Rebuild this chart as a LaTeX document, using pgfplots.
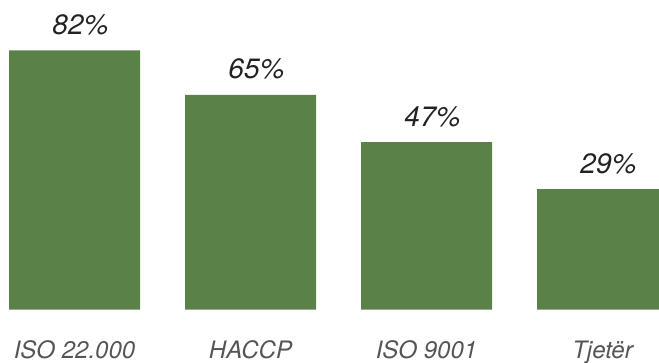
\documentclass[border=0pt]{standalone}
\usepackage{pgfplots}
\pgfplotsset{compat=1.18}
\usepackage{pgfplotstable}
\usepackage{fontspec}
\setmainfont{TeX Gyre Heros}
\definecolor{bargreen}{HTML}{5A8246}
\definecolor{valtext}{HTML}{222222}
\definecolor{cattext}{HTML}{555555}
\pgfplotstableread{
x v
0 82
1 65
2 47
3 29
}\datatable
\begin{document}
\begin{tikzpicture}
\useasboundingbox (0,0) rectangle (659pt,362pt);
\begin{axis}[
  at={(0pt,52.5pt)}, anchor=south west,
  scale only axis, width=659pt, height=309.5pt,
  xmin=-0.4233, xmax=3.321, ymin=0, ymax=118.3,
  axis line style={draw=none},
  major tick length=0pt,
  ytick=\empty,
  xtick={0,1,2,3},
  xticklabels={ISO 22.000, HACCP, ISO 9001, Tjetër},
  xticklabel style={anchor=base, yshift=-48.5pt, font=\fontsize{24}{26}\selectfont\itshape, text=cattext},
  ybar, bar width=131pt,
  point meta=explicit symbolic,
  nodes near coords={\pgfplotspointmeta\%},
  every node near coord/.append style={anchor=base, yshift=16pt, xshift=6pt, font=\fontsize{28}{30}\selectfont\itshape, text=valtext},
]
\addplot[fill=bargreen, draw=none] table[x=x, y expr=\thisrow{v}+17, meta=v] {\datatable};
\end{axis}
\end{tikzpicture}
\end{document}
